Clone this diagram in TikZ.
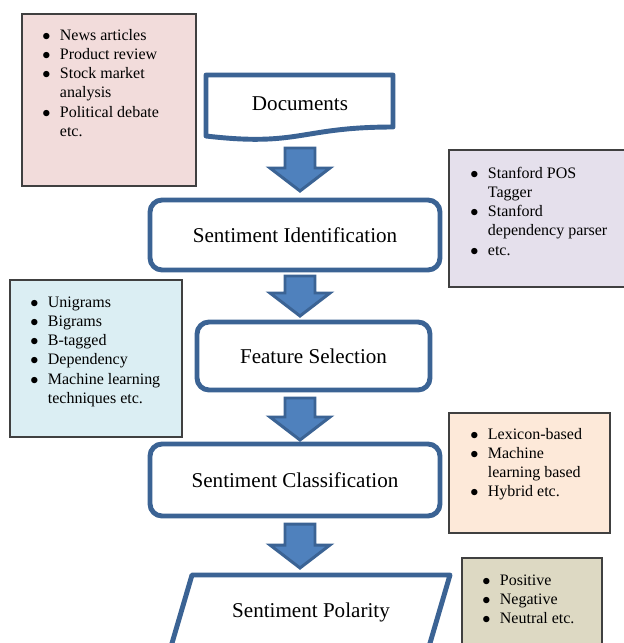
\documentclass[tikz,border=0pt]{standalone}
\usepackage{fontspec}
\setmainfont{Liberation Serif}
\usetikzlibrary{calc}

\definecolor{boxblue}{HTML}{3B6394}
\definecolor{arrowfill}{HTML}{4F81BD}
\definecolor{notepink}{HTML}{F2DCDB}
\definecolor{notelilac}{HTML}{E5E0EC}
\definecolor{notecyan}{HTML}{DBEEF3}
\definecolor{notepeach}{HTML}{FDE9D9}
\definecolor{notetan}{HTML}{DDD9C3}
\definecolor{noteedge}{HTML}{404040}

\newcommand{\dotmark}{$\bullet$}
% block arrow: #1 = x of centre, #2 = y of top, #3 = y of tip
\newcommand{\flowarrow}[3]{%
  \draw[arrowshape] (#1-15,#2) -- (#1+15,#2) -- (#1+15,#3-25) -- (#1+30,#3-25)
    -- (#1,#3-2) -- (#1-30,#3-25) -- (#1-15,#3-25) -- cycle;}

\begin{document}
\begin{tikzpicture}[x=0.02cm, y=-0.02cm,
    flowbox/.style={draw=boxblue, line width=2.8pt, rounded corners=0.24cm,
        fill=white, font=\fontsize{12}{14}\selectfont, inner sep=0pt},
    flowline/.style={draw=boxblue, line width=2.8pt, fill=white, line join=round},
    mainlabel/.style={font=\fontsize{12}{14}\selectfont, inner sep=0pt},
    notebox/.style={draw=noteedge, line width=0.7pt},
    notetext/.style={anchor=base west, inner sep=0pt, font=\fontsize{9.1}{11}\selectfont},
    arrowshape/.style={draw=boxblue, line width=1.7pt, fill=arrowfill, line join=miter}
]
\useasboundingbox (0,0) rectangle (624,643);
\clip (0,0) rectangle (624,643);

% Side notes
\draw[notebox, fill=notepink] (22,14) rectangle (196,186);
\node[notetext] (srcnote) at (42,40) {\begin{tabular}[t]{@{}p{10pt}@{}l@{}}
  \dotmark & News articles\\
  \dotmark & Product review\\
  \dotmark & Stock market\\
           & analysis\\
  \dotmark & Political debate\\
           & etc.
\end{tabular}};

\draw[notebox, fill=notelilac] (449,150) rectangle (630,287);
\node[notetext] (toolnote) at (470,178) {\begin{tabular}[t]{@{}p{10pt}@{}l@{}}
  \dotmark & Stanford POS\\
           & Tagger\\
  \dotmark & Stanford\\
           & dependency parser\\
  \dotmark & etc.
\end{tabular}};

\draw[notebox, fill=notecyan] (10,280) rectangle (182,437);
\node[notetext] (featnote) at (30,307) {\begin{tabular}[t]{@{}p{10pt}@{}l@{}}
  \dotmark & Unigrams\\
  \dotmark & Bigrams\\
  \dotmark & B-tagged\\
  \dotmark & Dependency\\
  \dotmark & Machine learning\\
           & techniques etc.
\end{tabular}};

\draw[notebox, fill=notepeach] (449,413) rectangle (610,533);
\node[notetext] (classnote) at (470,439) {\begin{tabular}[t]{@{}p{10pt}@{}l@{}}
  \dotmark & Lexicon-based\\
  \dotmark & Machine\\
           & learning based\\
  \dotmark & Hybrid etc.
\end{tabular}};

\draw[notebox, fill=notetan] (462,558) rectangle (602,660);
\node[notetext] (polnote) at (482,585) {\begin{tabular}[t]{@{}p{10pt}@{}l@{}}
  \dotmark & Positive\\
  \dotmark & Negative\\
  \dotmark & Neutral etc.
\end{tabular}};

% Block arrows
\flowarrow{300}{148}{193}
\flowarrow{300}{276}{318}
\flowarrow{300}{398}{442}
\flowarrow{300}{524}{570}

% Documents
\draw[flowline] (206,75) -- (393,75) -- (393,127)
    .. controls (300,127) and (300,147) .. (206,136) -- cycle;
\node[mainlabel, anchor=base] (docs) at (300,110) {Documents};

% Process boxes
\node[flowbox, minimum width=5.8cm, minimum height=1.4cm] (ident) at (295,235) {Sentiment Identification};
\node[flowbox, minimum width=4.66cm, minimum height=1.36cm] (featsel) at (313.5,356) {Feature Selection};
\node[flowbox, minimum width=5.8cm, minimum height=1.44cm] (classif) at (295,480) {Sentiment Classification};

% Output
\draw[flowline] (192,575) -- (450,575) -- (428,650) -- (170,650) -- cycle;
\node[mainlabel, anchor=base] (polar) at (311,617) {Sentiment Polarity};

\end{tikzpicture}
\end{document}
